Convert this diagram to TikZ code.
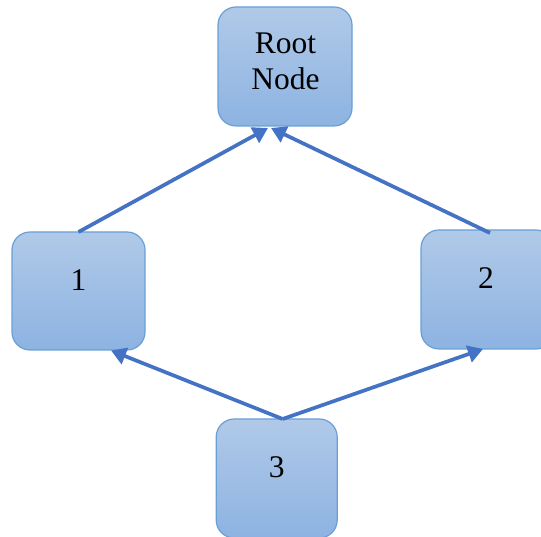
\documentclass[tikz,border=0pt]{standalone}
\usepackage{fontspec}
\setmainfont{Liberation Serif}
\usetikzlibrary{arrows.meta,calc}
\definecolor{boxtop}{HTML}{B0C9E8}
\definecolor{boxbot}{HTML}{8DB3E2}
\definecolor{boxline}{HTML}{6A9FD6}
\definecolor{arrowblue}{HTML}{4472C4}
\tikzset{
  box/.style={draw=boxline, line width=1.2pt, rounded corners=18pt,
    top color=boxtop, bottom color=boxbot, inner sep=0pt, outer sep=0pt},
  lbl/.style={font=\fontsize{31.5}{36}\selectfont, align=center, inner sep=0pt, text=black},
  link/.style={draw=arrowblue, line width=3.7pt,
    -{Triangle[length=15pt,width=17pt]}}
}
\begin{document}
\begin{tikzpicture}[x=1pt,y=1pt]
\useasboundingbox (0,0) rectangle (541,537);
\begin{scope}
\clip (0,0) rectangle (541,537);
\node[box, minimum width=134pt, minimum height=119pt] (root) at (285,470.5) {};
\node[box, minimum width=133pt, minimum height=118pt] (n1) at (78.5,246) {};
\node[box, minimum width=133pt, minimum height=119pt] (n2) at (487.5,247.5) {};
\node[box, minimum width=121pt, minimum height=119pt] (n3) at (276.7,58.5) {};
\end{scope}
\node[lbl] (rootT) at (285.5,476) {Root\\Node};
\node[lbl] (n1T) at (78.5,257) {1};
\node[lbl] (n2T) at (486,258.5) {2};
\node[lbl] (n3T) at (276.7,70) {3};
\draw[link] (n1.north) -- ($(root.south)+(-17,-2)$);
\draw[link] ($(n2.north)+(2.5,-3)$) -- ($(root.south)+(-14,-2)$);
\draw[link] ($(n3.north)+(6,0)$) -- ($(n1.south)+(32.5,-0.5)$);
\draw[link] ($(n3.north)+(6,0)$) -- ($(n2.south)+(-4.5,0)$);
\end{tikzpicture}
\end{document}
